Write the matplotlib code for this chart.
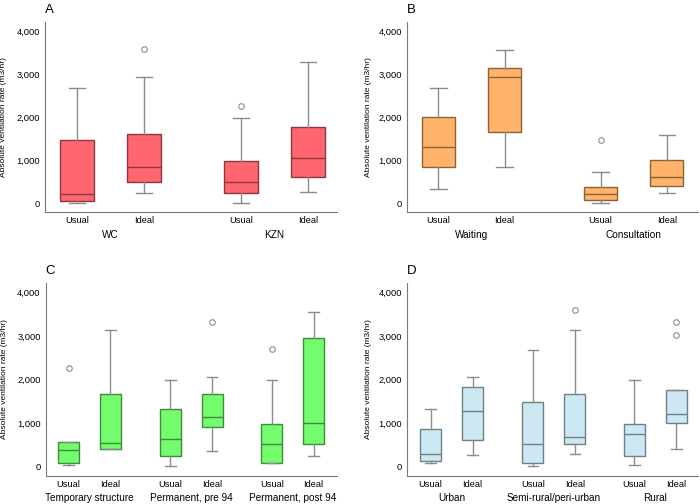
import numpy as np
import matplotlib
matplotlib.use("Agg")
import matplotlib.pyplot as plt
from matplotlib.colors import to_rgb

plt.rcParams['font.family'] = ['Liberation Sans', 'DejaVu Sans']

# five-number summaries: low whisker, Q1, median, Q3, high whisker
# panel A - province
a_groups = ['WC', 'KZN']
a_low = [10, 230, 15, 270]
a_q1 = [60, 500, 230, 620]
a_med = [210, 835, 490, 1045]
a_q3 = [1460, 1600, 970, 1765]
a_high = [2670, 2945, 1990, 3295]
a_out = [[], [3580], [2270], []]

# panel B - room type
b_groups = ['Waiting', 'Consultation']
b_low = [340, 835, 10, 230]
b_q1 = [835, 1655, 70, 395]
b_med = [1310, 2945, 210, 620]
b_q3 = [1995, 3150, 365, 1000]
b_high = [2670, 3560, 730, 1595]
b_out = [[], [], [1480], []]

# panel C - building type
c_groups = ['Temporary structure', 'Permanent, pre 94', 'Permanent, post 94']
c_low = [40, 410, 15, 355, 75, 255]
c_q1 = [75, 410, 240, 910, 75, 515]
c_med = [375, 540, 630, 1130, 515, 1000]
c_q3 = [560, 1660, 1330, 1675, 970, 2955]
c_high = [560, 3145, 1990, 2055, 1985, 3560]
c_out = [[2275], [], [], [3325], [2690], []]

# panel D - setting
d_groups = ['Urban', 'Semi-rural/peri-urban', 'Rural']
d_low = [75, 260, 15, 290, 40, 410]
d_q1 = [130, 610, 85, 515, 240, 1000]
d_med = [290, 1275, 515, 670, 750, 1200]
d_q3 = [870, 1830, 1485, 1660, 975, 1760]
d_high = [1315, 2055, 2685, 3145, 1990, 1760]
d_out = [[], [], [], [3585], [], [3315, 3015]]

box_labels = ['Usual', 'Ideal']
yticks = [0, 1000, 2000, 3000, 4000]
ytick_labels = ['0', '1,000', '2,000', '3,000', '4,000']


def make_stats(low, q1, med, q3, high, out):
    stats = []
    for i in range(len(med)):
        stats.append(dict(whislo=low[i], q1=q1[i], med=med[i], q3=q3[i],
                          whishi=high[i], fliers=out[i]))
    return stats


def darker(c, f):
    r, g, b = to_rgb(c)
    return (r * f, g * f, b * f)


def draw_panel(ax, letter, groups, stats, color, xlim):
    n = len(groups)
    if n == 2:
        pos = [0, 1, 2.45, 3.45]
    else:
        pos = [0, 1, 2.43, 3.43, 4.85, 5.85]
    edge = darker(color, 0.55)
    ax.bxp(stats, positions=pos, widths=0.5, patch_artist=True,
           boxprops=dict(facecolor=color, edgecolor=edge, linewidth=1.0),
           medianprops=dict(color=edge, linewidth=1.0),
           whiskerprops=dict(color='#8c8c8c', linewidth=1.0),
           capprops=dict(color='#8c8c8c', linewidth=1.0),
           capwidths=0.25,
           flierprops=dict(marker='o', markersize=4, markerfacecolor='white',
                           markeredgecolor='#8c8c8c', markeredgewidth=0.8))
    ax.set_xlim(*xlim)
    ax.set_ylim(-210, 4210)
    ax.set_yticks(yticks)
    ax.set_yticklabels(ytick_labels, fontsize=6.7)
    ax.set_xticks(pos)
    ax.set_xticklabels(box_labels * n, fontsize=6.7)
    ax.tick_params(length=0)
    ax.tick_params(axis='x', pad=3)
    ax.tick_params(axis='y', pad=3.5)
    for s in ['top', 'right']:
        ax.spines[s].set_visible(False)
    for s in ['left', 'bottom']:
        ax.spines[s].set_color('#7a7a7a')
        ax.spines[s].set_linewidth(0.8)
    for k, g in enumerate(groups):
        xc = (pos[2 * k] + pos[2 * k + 1]) / 2
        ax.annotate(g, xy=(xc, 0), xycoords=('data', 'axes fraction'),
                    xytext=(0, -12.5), textcoords='offset points',
                    ha='center', va='top', fontsize=7.2)
    ax.set_ylabel('Absolute ventilation rate (m3/hr)', fontsize=6)
    ax.text(0.0, 1.03, letter, transform=ax.transAxes, fontsize=9.5,
            ha='left', va='bottom')


fig = plt.figure(figsize=(7, 5.04), dpi=100)
axA = fig.add_axes([0.064, 0.579, 0.417, 0.377])
axB = fig.add_axes([0.581, 0.579, 0.416, 0.377])
axC = fig.add_axes([0.065, 0.056, 0.416, 0.382])
axD = fig.add_axes([0.581, 0.056, 0.416, 0.382])

draw_panel(axA, 'A', a_groups, make_stats(a_low, a_q1, a_med, a_q3, a_high, a_out),
           '#ff6670', (-0.48, 3.88))
draw_panel(axB, 'B', b_groups, make_stats(b_low, b_q1, b_med, b_q3, b_high, b_out),
           '#ffb36b', (-0.48, 3.92))
draw_panel(axC, 'C', c_groups, make_stats(c_low, c_q1, c_med, c_q3, c_high, c_out),
           '#72fc6e', (-0.55, 6.4))
draw_panel(axD, 'D', d_groups, make_stats(d_low, d_q1, d_med, d_q3, d_high, d_out),
           '#cce8f2', (-0.57, 6.36))

for ax in [axA, axC]:
    ax.yaxis.set_label_coords(-0.13, 0.5)
for ax in [axB, axD]:
    ax.yaxis.set_label_coords(-0.12, 0.5)

fig.savefig('out.png', dpi=100)
